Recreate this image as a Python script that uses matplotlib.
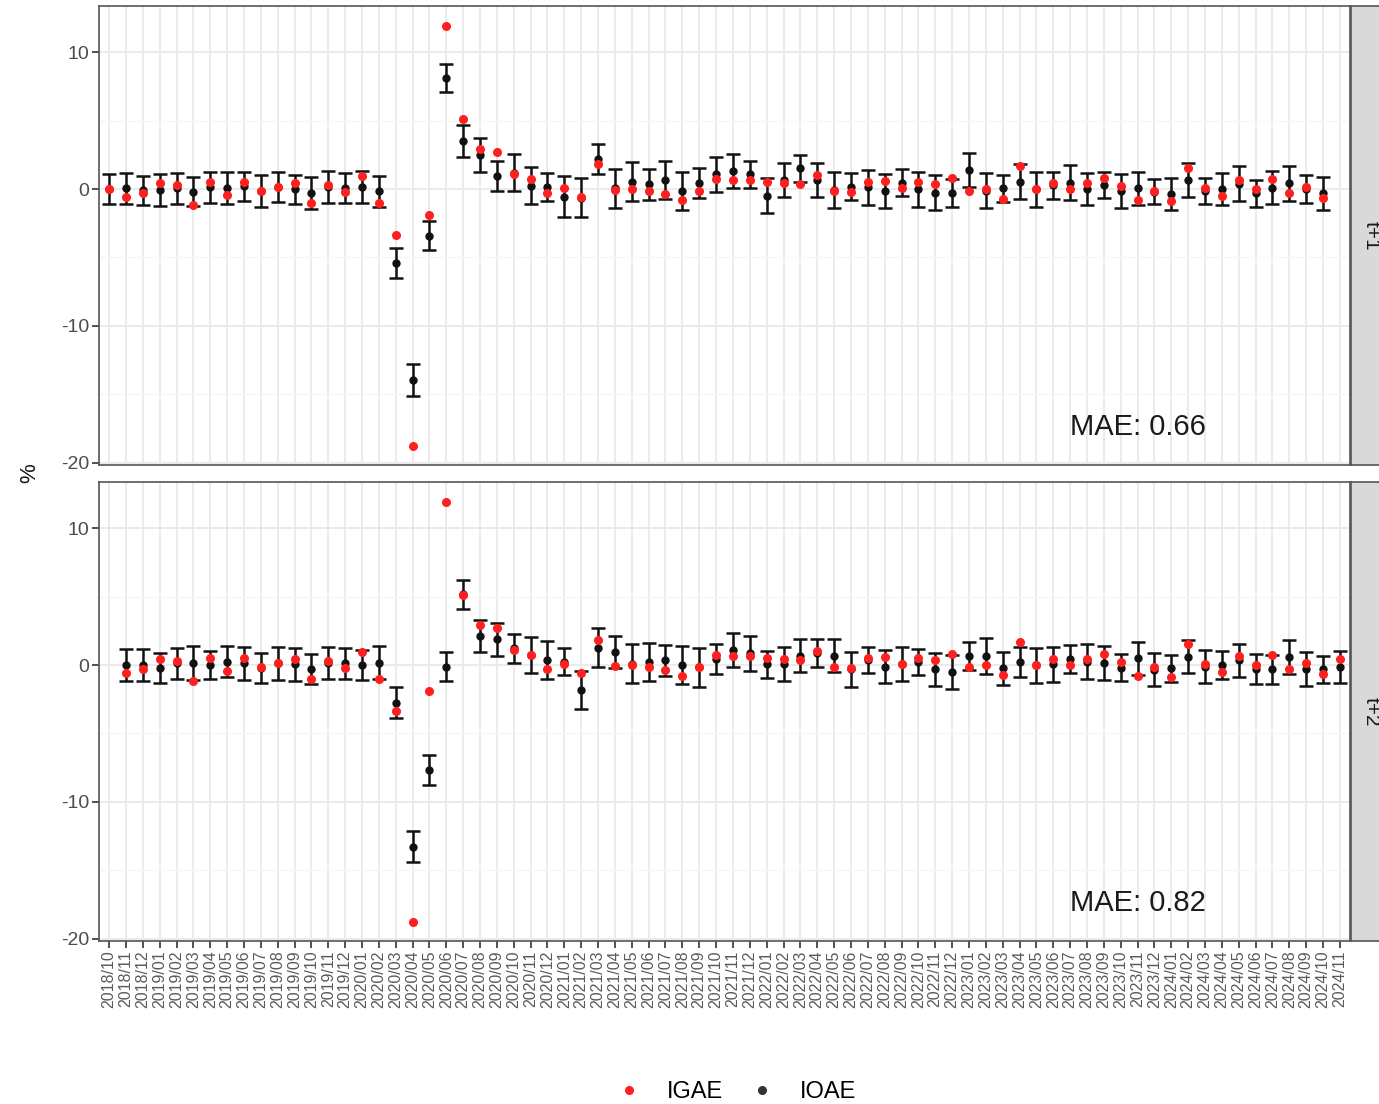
import matplotlib
matplotlib.use("Agg")
import matplotlib.pyplot as plt
import numpy as np
import pandas as pd
from matplotlib.lines import Line2D

plt.rcParams['font.family'] = ['Liberation Sans', 'DejaVu Sans']
plt.rcParams['axes.unicode_minus'] = False

W, H = 1379, 1104

months = list(pd.period_range('2018-10', '2024-11', freq='M').strftime('%Y/%m'))

# observed monthly variation (%), 2018/10 .. 2024/11
igae = [0.0, -0.56, -0.3, 0.47, 0.32, -1.2, 0.49, -0.42, 0.49, -0.15,
        0.12, 0.45, -1.03, 0.27, -0.2, 0.93, -1.0, -3.38, -18.78, -1.92,
        11.88, 5.13, 2.92, 2.72, 1.12, 0.75, -0.3, 0.05, -0.56, 1.82,
        -0.05, 0.03, -0.15, -0.35, -0.78, -0.17, 0.73, 0.63, 0.67, 0.51,
        0.45, 0.37, 1.02, -0.13, -0.25, 0.51, 0.57, 0.1, 0.49, 0.38,
        0.79, -0.13, 0.03, -0.74, 1.68, 0.0, 0.42, 0.0, 0.41, 0.78,
        0.24, -0.78, -0.15, -0.9, 1.51, 0.05, -0.52, 0.63, 0.03, 0.75,
        -0.32, 0.12, -0.68, 0.41]

# t+1 nowcast, 2018/10 .. 2024/10
ioae_t1 = [0.0, 0.05, -0.1, -0.07, 0.05, -0.2, 0.12, 0.1, 0.2, -0.12,
           0.15, 0.0, -0.27, 0.17, 0.05, 0.17, -0.15, -5.43, -13.94, -3.4,
           8.08, 3.53, 2.48, 0.97, 1.19, 0.24, 0.15, -0.56, -0.63, 2.2,
           0.05, 0.54, 0.34, 0.66, -0.15, 0.41, 1.09, 1.31, 1.09, -0.49,
           0.65, 1.51, 0.66, -0.07, 0.17, 0.12, -0.12, 0.46, 0.0, -0.27,
           -0.27, 1.39, -0.12, 0.05, 0.54, 0.0, 0.27, 0.46, 0.0, 0.29,
           -0.15, 0.05, -0.2, -0.37, 0.66, -0.15, 0.0, 0.37, -0.32, 0.1,
           0.41, 0.0, -0.32]
err_t1 = [1.13, 1.13, 1.07, 1.16, 1.14, 1.06, 1.11, 1.16, 1.05, 1.16,
          1.13, 1.06, 1.16, 1.16, 1.09, 1.16, 1.13, 1.09, 1.16, 1.07,
          1.02, 1.18, 1.22, 1.09, 1.34, 1.36, 1.0, 1.48, 1.42, 1.07,
          1.4, 1.42, 1.12, 1.41, 1.39, 1.09, 1.28, 1.25, 0.99, 1.28,
          1.25, 1.0, 1.24, 1.28, 0.99, 1.28, 1.25, 0.97, 1.28, 1.28,
          1.03, 1.25, 1.28, 0.99, 1.3, 1.28, 1.0, 1.29, 1.19, 0.95,
          1.22, 1.19, 0.91, 1.19, 1.23, 0.94, 1.19, 1.28, 0.97, 1.22,
          1.28, 1.01, 1.23]

# t+2 nowcast, 2018/11 .. 2024/11
ioae_t2 = [0.0, 0.0, -0.24, 0.12, 0.12, 0.0, 0.24, 0.12, -0.19, 0.12,
           0.05, -0.32, 0.17, 0.12, 0.0, 0.17, -2.75, -13.26, -7.66, -0.12,
           5.16, 2.12, 1.87, 1.22, 0.73, 0.36, 0.25, -1.82, 1.27, 0.95,
           0.1, 0.24, 0.36, 0.0, -0.17, 0.44, 1.09, 0.85, 0.05, 0.07,
           0.68, 0.88, 0.68, -0.32, 0.36, -0.12, 0.1, 0.24, -0.32, -0.49,
           0.66, 0.66, -0.24, 0.24, 0.0, 0.07, 0.44, 0.24, 0.12, -0.19,
           0.49, -0.34, -0.24, 0.61, -0.12, 0.0, 0.35, -0.32, -0.32, 0.56,
           -0.27, -0.32, -0.12]
err_t2 = [1.16, 1.16, 1.09, 1.16, 1.24, 1.05, 1.14, 1.19, 1.09, 1.18,
          1.22, 1.09, 1.16, 1.16, 1.09, 1.22, 1.12, 1.13, 1.12, 1.06,
          1.06, 1.19, 1.18, 1.06, 1.34, 1.36, 1.0, 1.41, 1.45, 1.15,
          1.41, 1.4, 1.13, 1.4, 1.4, 1.09, 1.24, 1.28, 1.0, 1.25,
          1.22, 1.0, 1.22, 1.25, 0.97, 1.22, 1.25, 0.95, 1.22, 1.25,
          1.0, 1.28, 1.22, 1.11, 1.28, 1.28, 1.01, 1.27, 1.24, 1.0,
          1.22, 1.19, 0.97, 1.22, 1.22, 1.0, 1.22, 1.09, 1.06, 1.24,
          1.24, 0.99, 1.16]

panels = [("t+1", 0, ioae_t1, err_t1, "MAE: 0.66"),
          ("t+2", 1, ioae_t2, err_t2, "MAE: 0.82")]

fig = plt.figure(figsize=(W / 100, H / 100), dpi=100)

tops = [6, 482]
ph = 459
left, right = 99, 1350
igae = np.array(igae)

for k, (lab, start, ioae, err, mae) in enumerate(panels):
    top = tops[k]
    ax = fig.add_axes([left / W, 1 - (top + ph) / H, (right - left) / W, ph / H])
    x = np.arange(start, start + len(ioae))

    ax.set_xlim(-0.6, len(months) - 0.4)
    ax.set_ylim(-20.16, 13.37)
    ax.set_xticks(np.arange(len(months)))
    ax.set_yticks([-20, -10, 0, 10])
    ax.set_yticks([-15, -5, 5], minor=True)
    ax.grid(which='major', color='#EBEBEB', lw=1.4)
    ax.grid(which='minor', axis='y', color='#F5F5F5', lw=0.9)
    ax.set_axisbelow(True)

    ax.errorbar(x, ioae, yerr=err, fmt='o', color='#111111', ms=5,
                capsize=4.7, elinewidth=1.8, capthick=1.8, zorder=3)
    ax.plot(x, igae[x], 'o', color='#FF1F1F', ms=5.5, zorder=4)

    ax.text(61.0, -17.4, mae, ha='center', va='center', fontsize=21,
            color='#1A1A1A')

    for sp in ax.spines.values():
        sp.set_color('#555555')
        sp.set_linewidth(1.2)
    ax.tick_params(axis='y', which='major', length=5, width=1.2,
                   color='#333333', labelcolor='#4D4D4D', labelsize=14, pad=2)
    ax.tick_params(axis='y', which='minor', length=0)
    if k == 0:
        ax.tick_params(axis='x', length=0, labelbottom=False)
    else:
        ax.set_xticklabels(months, rotation=90, fontsize=11.5, color='#5A5A5A')
        ax.tick_params(axis='x', length=5, width=1.2, color='#333333', pad=2)

    # facet strip on the right
    sx = fig.add_axes([1351 / W, 1 - (top + ph) / H, 40 / W, ph / H])
    sx.set_facecolor('#D9D9D9')
    sx.set_xticks([])
    sx.set_yticks([])
    for sp in sx.spines.values():
        sp.set_color('#555555')
        sp.set_linewidth(1.2)
    sx.text(0.5, 0.5, lab, rotation=-90, ha='center', va='center',
            fontsize=15, color='#1A1A1A', transform=sx.transAxes)

fig.text(30 / W, 1 - 473 / H, '%', rotation=90, ha='center', va='center',
         fontsize=16, color='#1A1A1A')

handles = [Line2D([], [], marker='o', ls='', color='#FF1F1F', ms=5.5),
           Line2D([], [], marker='o', ls='', color='#333333', ms=5.5)]
fig.legend(handles, ['IGAE', 'IOAE'], loc='center',
           bbox_to_anchor=(737 / W, 1 - 1092 / H), ncol=2, frameon=False,
           fontsize=17, handlelength=1.0, handletextpad=1.11,
           columnspacing=1.15)

fig.savefig('out.png', dpi=100)
